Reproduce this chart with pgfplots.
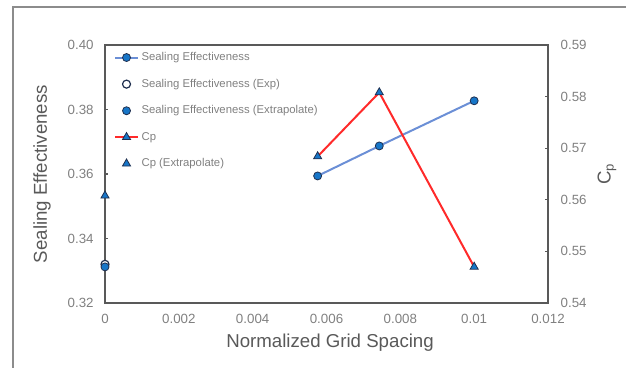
\documentclass[border=0pt]{standalone}
\usepackage{fontspec}
\setmainfont{Liberation Sans}
\usepackage{pgfplots}
\pgfplotsset{compat=1.18}
\definecolor{axgray}{HTML}{595959}
\definecolor{tickgray}{HTML}{808080}
\definecolor{seblue}{HTML}{6B8FD6}
\definecolor{mkblue}{HTML}{1776C8}
\definecolor{mkedge}{HTML}{1F2F4F}
\definecolor{cpred}{HTML}{FF2A2A}
\begin{document}
\begin{tikzpicture}
\useasboundingbox (0,0) rectangle (469.5pt,276pt);
\draw[line width=1pt, color=black!45] (9.75pt,0) -- (9.75pt,270.75pt) -- (469.5pt,270.75pt);
\pgfplotsset{
  common/.style={
    scale only axis, width=332.25pt, height=193.5pt,
    at={(78.75pt,48.75pt)}, anchor=south west,
    xmin=0, xmax=0.012, clip=false,
    axis line style={color=axgray, line width=1.1pt},
    tick style={color=axgray, line width=0.8pt},
    major tick length=2.5pt,
    ticklabel style={font=\fontsize{10}{12}\selectfont, color=tickgray},
    /pgf/number format/assume math mode=true,
    label style={font=\fontsize{14}{16}\selectfont, color=axgray},
    yticklabel style={/pgf/number format/fixed, /pgf/number format/precision=2, /pgf/number format/fixed zerofill},
    scaled x ticks=false,
  }
}
\begin{axis}[common,
  ymin=0.32, ymax=0.40, ytick={0.32,0.34,0.36,0.38,0.40},
  ytick pos=left, xtick pos=bottom,
  xtick={0,0.002,0.004,0.006,0.008,0.01,0.012},
  xticklabels={0,0.002,0.004,0.006,0.008,0.01,0.012},
  xtick style={draw=none},
  xticklabel style={yshift=-5pt},
  yticklabel style={xshift=-5pt},
  xlabel={Normalized Grid Spacing},
  ylabel={Sealing Effectiveness},
  xlabel style={at={(axis description cs:0.508,-0.155)}, anchor=center},
  ylabel style={at={(axis description cs:-0.142,0.5)}, anchor=center},
  legend style={at={(axis description cs:0.011,0.993)}, anchor=north west, draw=none, fill=none,
    font=\fontsize{8.5}{10}\selectfont, text=tickgray, row sep=8.3pt},
  legend cell align=left,
]
\addplot[seblue, line width=1.5pt, mark=*, mark size=3pt, mark options={fill=mkblue, draw=mkedge, line width=0.6pt}]
  coordinates {(0.00576,0.3594) (0.00743,0.3687) (0.01,0.3827)};
\addplot[only marks, mark=*, mark size=3pt, mark options={fill=white, draw=mkedge, line width=0.9pt}]
  coordinates {(0,0.3320)};
\addplot[only marks, mark=*, mark size=3pt, mark options={fill=mkblue, draw=mkedge, line width=0.6pt}]
  coordinates {(0,0.3312)};
\addlegendimage{cpred, line width=1.5pt, mark=triangle*, mark size=3.5pt, mark options={fill=mkblue, draw=mkedge, line width=0.6pt}}
\addlegendimage{only marks, mark=triangle*, mark size=3.5pt, mark options={fill=mkblue, draw=mkedge, line width=0.6pt}}
\legend{Sealing Effectiveness, Sealing Effectiveness (Exp), Sealing Effectiveness (Extrapolate), Cp, Cp (Extrapolate)}
\end{axis}
\begin{axis}[common,
  ymin=0.54, ymax=0.59, ytick={0.54,0.55,0.56,0.57,0.58,0.59},
  axis y line*=right, axis x line=none,
  yticklabel style={xshift=6pt},
  ylabel={C\textsubscript{p}},
  ylabel style={at={(axis description cs:1.133,0.5)}, anchor=center, rotate=0},
]
\addplot[cpred, line width=1.5pt, mark=triangle*, mark size=3.5pt, mark options={fill=mkblue, draw=mkedge, line width=0.6pt}]
  coordinates {(0.00576,0.5684) (0.00743,0.5808) (0.01,0.5470)};
\addplot[only marks, mark=triangle*, mark size=3.5pt, mark options={fill=mkblue, draw=mkedge, line width=0.6pt}]
  coordinates {(0,0.5608)};
\end{axis}
\end{tikzpicture}
\end{document}
